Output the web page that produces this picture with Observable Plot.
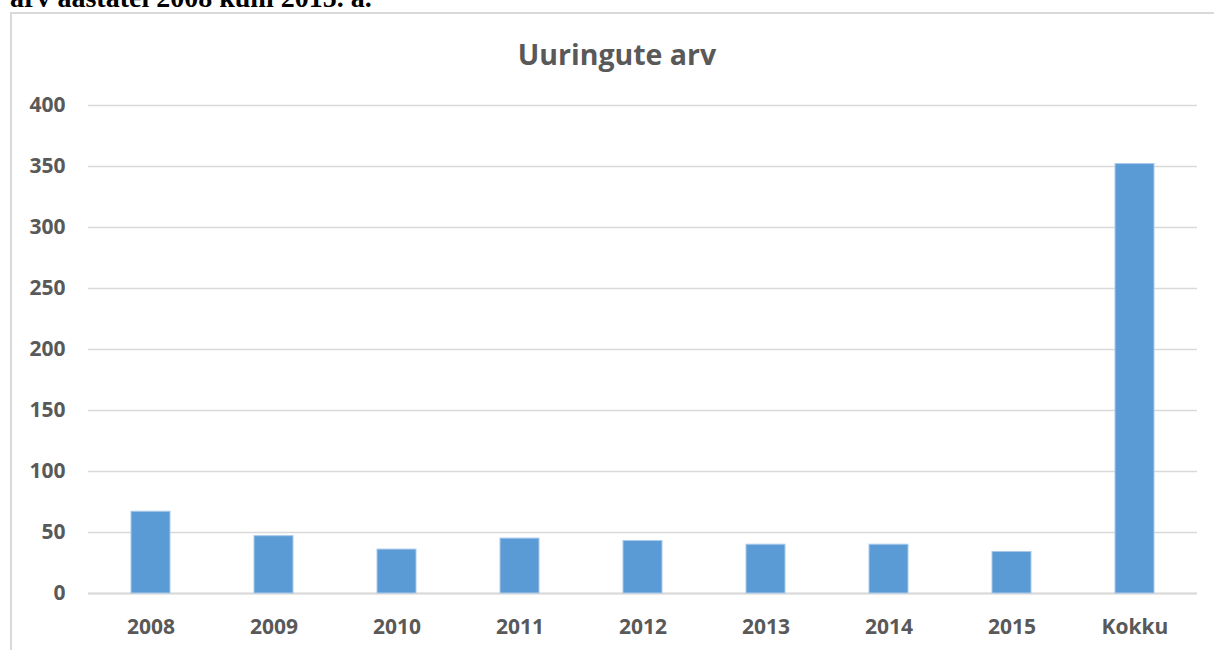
<!DOCTYPE html>
<html>
<head>
<meta charset="utf-8">
<script src="https://cdn.jsdelivr.net/npm/d3@7"></script>
<script src="https://cdn.jsdelivr.net/npm/@observablehq/plot@0.6"></script>
<style>
  html, body { margin: 0; padding: 0; background: #fff; }
  #wrap { position: relative; width: 1214px; height: 650px; overflow: hidden; }
  #frame { position: absolute; left: 10px; top: 12px; width: 1300px; height: 700px; border: 2px solid #d9d9d9; box-sizing: border-box; }
  #caption { position: absolute; left: 10px; top: -16px; font-family: "Liberation Serif", "Times New Roman", serif; font-weight: bold; font-size: 28px; line-height: 28px; color: #000; white-space: nowrap; }
  #title { position: absolute; left: 0; width: 1234px; top: 34px; text-align: center; font-family: "Open Sans", sans-serif; font-weight: bold; font-size: 28.5px; line-height: 40px; color: #595959; }
  #chart { position: absolute; left: 0; top: 0; }
</style>
</head>
<body>
<div id="wrap">
  <div id="caption">arv aastatel 2008 kuni 2015. a.</div>
  <div id="frame"></div>
  <div id="title">Uuringute arv</div>
  <div id="chart"></div>
</div>
<script>
const categories = ["2008", "2009", "2010", "2011", "2012", "2013", "2014", "2015", "Kokku"];
const values = [67, 47, 36, 45, 43, 40, 40, 34, 352];
const yTicks = [0, 50, 100, 150, 200, 250, 300, 350, 400];

const data = categories.map((c, i) => ({category: c, value: values[i]}));

const chart = Plot.plot({
  width: 1214,
  height: 650,
  marginLeft: 88,
  marginRight: 17,
  marginTop: 105,
  marginBottom: 57,
  style: {fontFamily: "'Open Sans', sans-serif", fontSize: "21px", fontWeight: "bold", color: "#595959", background: "transparent", overflow: "visible"},
  x: {domain: categories, paddingInner: 0.68, paddingOuter: 0.34, label: null},
  y: {domain: [0, 400], label: null},
  marks: [
    Plot.gridY(yTicks, {stroke: "#d9d9d9", strokeOpacity: 1, strokeWidth: 1.5}),
    Plot.ruleY([0], {stroke: "#d9d9d9", strokeWidth: 2}),
    Plot.barY(data, {x: "category", y: "value", fill: "#5b9bd5", stroke: "#a9c9eb", strokeWidth: 1}),
    Plot.axisY(yTicks, {tickSize: 0, tickPadding: 23, fill: "#595959", label: null}),
    Plot.axisX({tickSize: 0, tickPadding: 26, fill: "#595959", label: null})
  ]
});
document.getElementById("chart").appendChild(chart);
</script>
</body>
</html>
